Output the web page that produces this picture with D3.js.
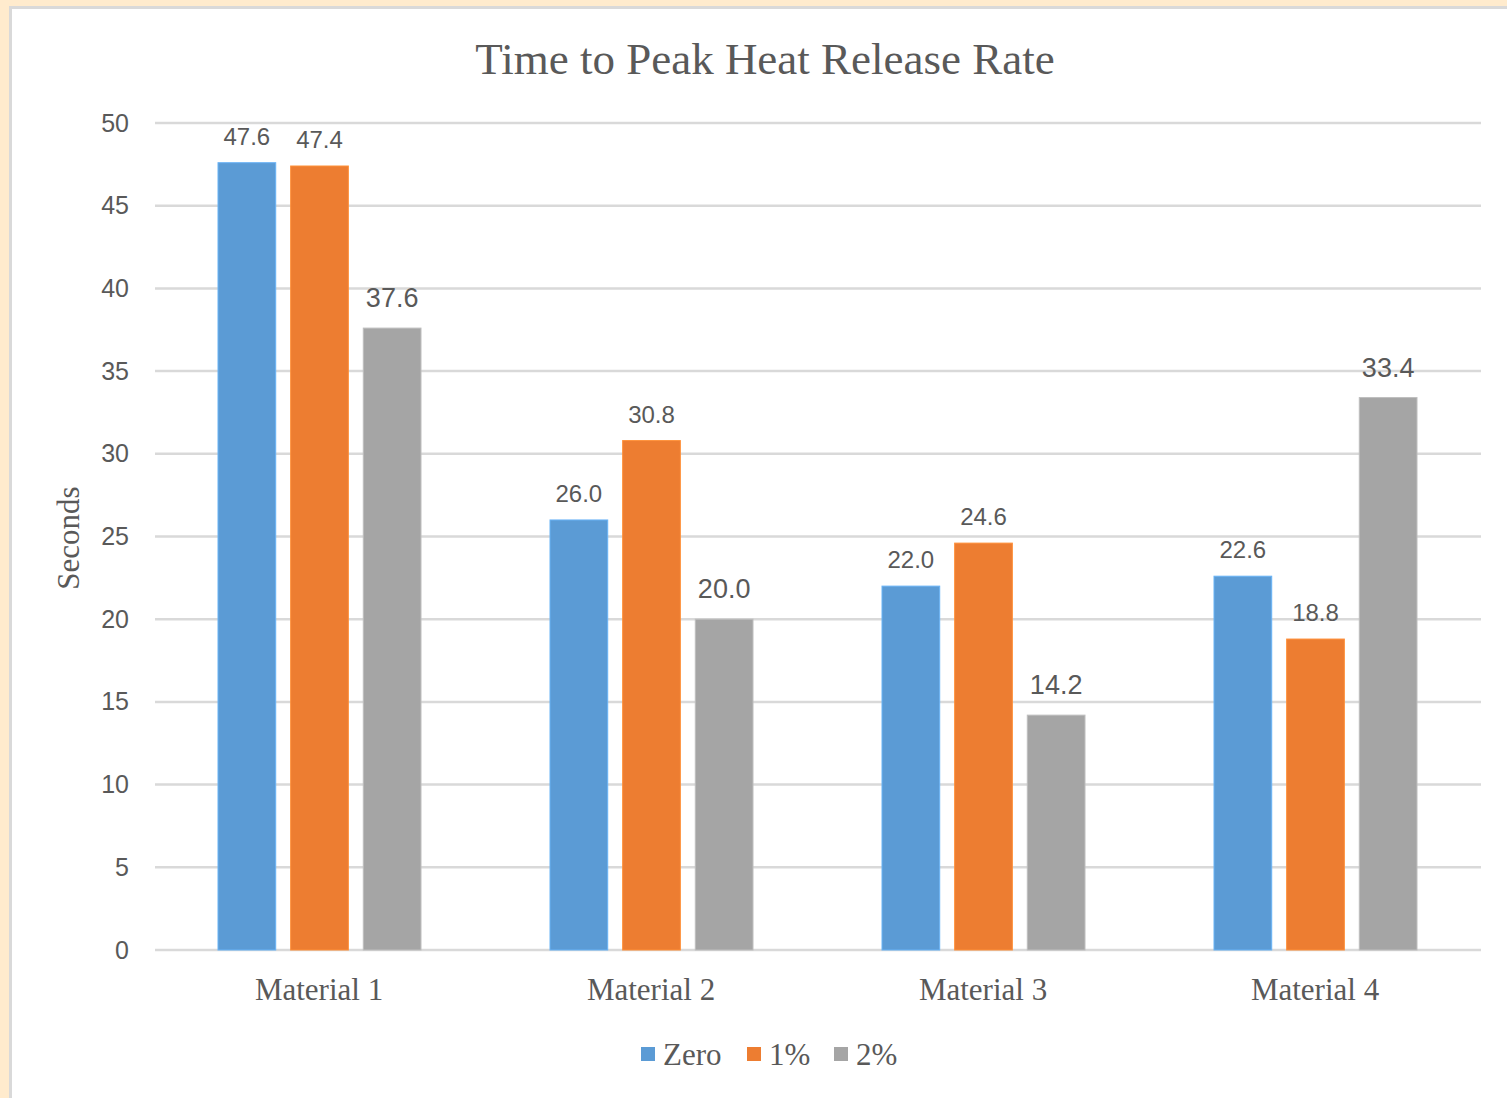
<!DOCTYPE html>
<html>
<head>
<meta charset="utf-8">
<script src="https://cdn.jsdelivr.net/npm/d3@7"></script>
<style>
  html, body { margin: 0; padding: 0; background: #FFEBCD; }
  svg { display: block; }
</style>
</head>
<body>
<script>
// Time to peak heat release rate, by material and additive level
const categories = ["Material 1", "Material 2", "Material 3", "Material 4"];
const seriesNames = ["Zero", "1%", "2%"];
const zeroValues = [47.6, 26.0, 22.0, 22.6];
const onePctValues = [47.4, 30.8, 24.6, 18.8];
const twoPctValues = [37.6, 20.0, 14.2, 33.4];
const yTicks = [0, 5, 10, 15, 20, 25, 30, 35, 40, 45, 50];
const seriesColors = ["#5B9BD5", "#ED7D31", "#A5A5A5"];

const seriesValues = [zeroValues, onePctValues, twoPctValues];
const W = 1507, H = 1098;
const textColor = "#595959";
const serif = "'Liberation Serif', 'Times New Roman', serif";
const sans = "'Liberation Sans', Arial, sans-serif";

const svg = d3.select("body").append("svg").attr("width", W).attr("height", H);

// cream page background and white chart panel with grey frame
svg.append("rect").attr("width", W).attr("height", H).attr("fill", "#FFEBCD");
svg.append("rect").attr("x", 10.5).attr("y", 7.5).attr("width", W + 20).attr("height", H + 20)
  .attr("fill", "#ffffff").attr("stroke", "#d9d9d9").attr("stroke-width", 3);

const y = d3.scaleLinear().domain([0, 50]).range([950, 123]);
const x0 = d3.scaleBand().domain(categories).range([153, 1481]).padding(0);
const x1 = d3.scaleBand().domain(seriesNames).range([65, 268]).paddingInner(15 / 73).paddingOuter(0);

// horizontal gridlines
svg.append("g").selectAll("line").data(yTicks).join("line")
  .attr("x1", 155).attr("x2", 1481)
  .attr("y1", d => y(d)).attr("y2", d => y(d))
  .attr("stroke", "#d9d9d9").attr("stroke-width", 2.5);

// y axis labels
const yAxis = d3.axisLeft(y).tickValues(yTicks).tickSize(0).tickPadding(0);
const yG = svg.append("g").attr("transform", "translate(129,0)").call(yAxis);
yG.select(".domain").remove();
yG.selectAll("text").attr("font-family", sans).attr("font-size", 25).attr("fill", textColor);

// axis title
svg.append("text").attr("transform", "translate(79,538) rotate(-90)")
  .attr("text-anchor", "middle").attr("font-family", serif).attr("font-size", 31)
  .attr("fill", textColor).text("Seconds");

// title
svg.append("text").attr("x", 765).attr("y", 74).attr("text-anchor", "middle")
  .attr("font-family", serif).attr("font-size", 45).attr("fill", textColor)
  .text("Time to Peak Heat Release Rate");

// bars
const groups = svg.append("g").selectAll("g").data(categories).join("g")
  .attr("transform", c => `translate(${x0(c)},0)`);

groups.each(function(c, ci) {
  const g = d3.select(this);
  seriesNames.forEach((s, si) => {
    const v = seriesValues[si][ci];
    g.append("rect")
      .attr("x", x1(s)).attr("width", x1.bandwidth())
      .attr("y", y(v)).attr("height", y(0) - y(v))
      .attr("fill", seriesColors[si])
      .attr("stroke", d3.color(seriesColors[si]).brighter(0.4)).attr("stroke-width", 1);
    const big = si === 2;
    g.append("text")
      .attr("x", x1(s) + x1.bandwidth() / 2)
      .attr("y", y(v) - (big ? 21 : 18))
      .attr("text-anchor", "middle")
      .attr("font-family", sans).attr("font-size", big ? 27 : 24)
      .attr("fill", textColor)
      .text(v.toFixed(1));
  });
});

// category axis
const xAxis = d3.axisBottom(x0).tickSize(0).tickPadding(0);
const xG = svg.append("g").attr("transform", "translate(0,1000)").call(xAxis);
xG.select(".domain").remove();
xG.selectAll("text").attr("font-family", serif).attr("font-size", 31).attr("fill", textColor)
  .attr("dy", 0);

// legend
const legendItems = [
  { name: "Zero", x: 641 },
  { name: "1%", x: 747 },
  { name: "2%", x: 834 }
];
const lg = svg.append("g");
legendItems.forEach((it, i) => {
  lg.append("rect").attr("x", it.x).attr("y", 1047).attr("width", 14).attr("height", 14)
    .attr("fill", seriesColors[i]);
  lg.append("text").attr("x", it.x + 22).attr("y", 1065)
    .attr("font-family", serif).attr("font-size", 31).attr("fill", textColor)
    .text(seriesNames[i]);
});
</script>
</body>
</html>
